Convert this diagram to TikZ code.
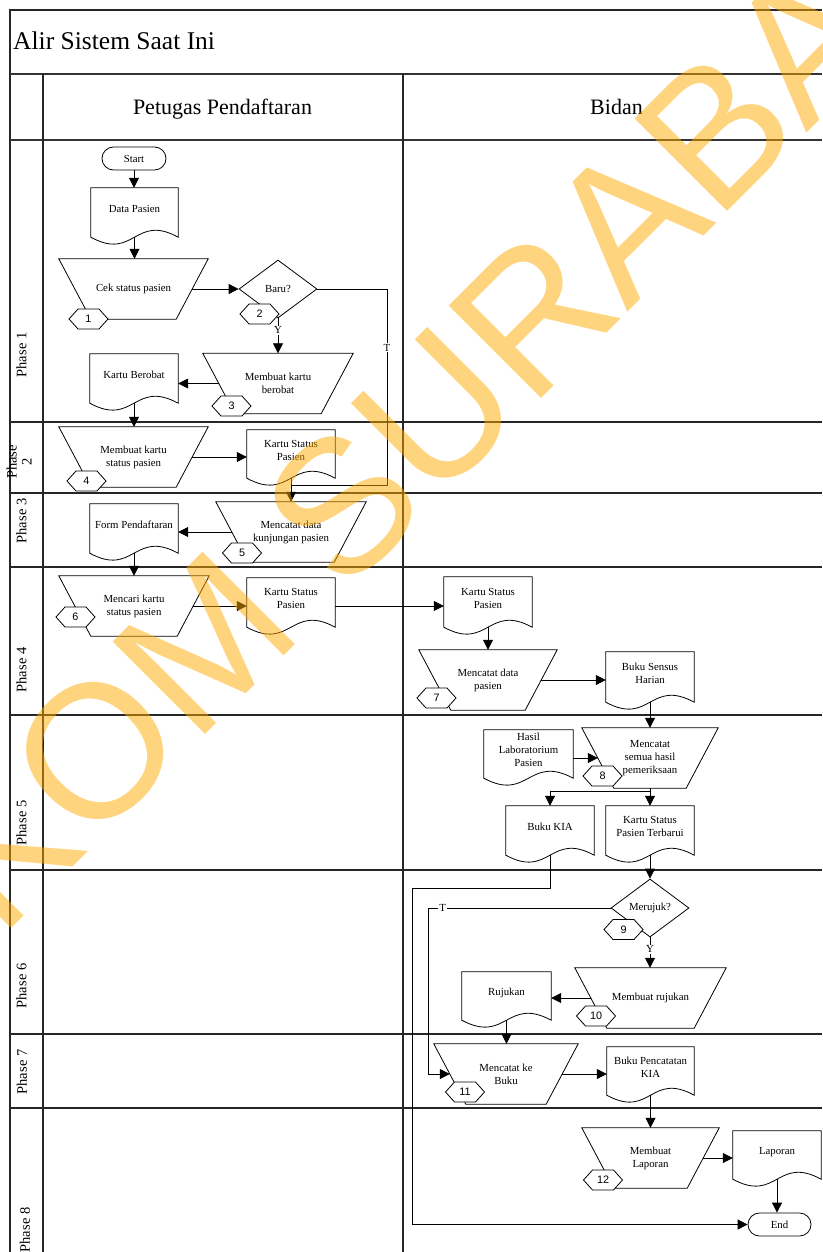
\documentclass[tikz,border=0pt]{standalone}
\usepackage{fontspec}
\setmainfont{Liberation Serif}
\newfontfamily\tagfont{Liberation Sans}
\usetikzlibrary{shapes.geometric,shapes.misc,arrows.meta,calc}

\definecolor{stampcol}{RGB}{255,170,0}

\tikzset{
  txt/.style={font=\fontsize{10.8}{13}\selectfont},
  gridline/.style={line width=1.1pt, black!85},
  headline/.style={line width=1.6pt, black!80},
  shapeline/.style={line width=0.8pt},
  flow/.style={line width=0.8pt},
  arr/.style={flow, -{Triangle[length=10pt,width=10pt]}},
  docnode/.style={rectangle, txt, align=center, inner sep=0pt, text depth=8pt,
    minimum width=88pt, minimum height=49pt},
  procnode/.style={rectangle, txt, align=center, inner sep=0pt, minimum height=60pt},
  decnode/.style={diamond, draw, shapeline, txt, inner sep=0pt,
    minimum width=78pt, minimum height=58pt},
  termnode/.style={rounded rectangle, draw, shapeline, txt, inner sep=0pt,
    minimum width=64pt, minimum height=23pt},
  numtext/.style={font=\tagfont\fontsize{10.8}{12}\selectfont, inner sep=0pt},
  hexline/.style={shapeline, fill=white},
  yesno/.style={txt, fill=white, inner sep=1pt},
  phaselbl/.style={rotate=90, font=\fontsize{14.5}{15}\selectfont, align=center, inner sep=0pt},
  lanehead/.style={font=\fontsize{22}{26}\selectfont, inner sep=0pt},
  stamp/.style={rotate=45, text=stampcol, text opacity=0.5, inner sep=0pt,
    font=\tagfont\fontsize{190}{190}\selectfont},
}

% document symbol: straight top and sides, wavy bottom
\newcommand\docframe[1]{%
  \draw[shapeline] (#1.south west)
    .. controls ($(#1.south)+(0,24)$) and ($(#1.south)+(0,-24)$) .. (#1.south east)
    -- (#1.north east) -- (#1.north west) -- cycle;}
% manual operation: trapezium narrowing downwards, with side mid-points
\newcommand\procframe[1]{%
  \draw[shapeline] (#1.north west) -- (#1.north east)
    -- ($(#1.south east)+(-32,0)$) -- ($(#1.south west)+(32,0)$) -- cycle;
  \coordinate (#1-l) at ($(#1.west)+(16,0)$);
  \coordinate (#1-r) at ($(#1.east)+(-16,0)$);}
% numbered hexagon tag: name, centre, number
\newcommand\numtag[3]{%
  \filldraw[hexline] ($(#2)+(-19.5,0)$) -- ++(9,-10) -- ++(21,0) -- ++(9,10)
    -- ++(-9,10) -- ++(-21,0) -- cycle;
  \node[numtext] (#1) at (#2) {#3};}

\begin{document}
\begin{tikzpicture}[x=1pt,y=-1pt]
\useasboundingbox (0,0) rectangle (822,1252);
\fill[white] (0,0) rectangle (822,1252);

% pool frame, lanes and phases
\draw[gridline] (10,1252) -- (10,10) -- (822,10);
\draw[headline] (10,74) -- (822,74);
\draw[headline] (10,140) -- (822,140);
\draw[gridline] (43,74) -- (43,1252);
\draw[gridline] (403,74) -- (403,1252);
\foreach \y in {422,493,567,715,870,1034,1108}
  \draw[gridline] (10,\y) -- (822,\y);

\node[anchor=base west, inner sep=0pt, font=\fontsize{25.5}{30}\selectfont] (title) at (13,50) {Alir Sistem Saat Ini};
\node[lanehead, anchor=base] (lane1) at (222.5,115) {Petugas Pendaftaran};
\node[lanehead, anchor=base] (lane2) at (616.5,115) {Bidan};

\node[phaselbl] (ph1) at (21.5,355) {Phase 1};
\node[phaselbl] (ph2) at (19,462) {Phase\\2};
\node[phaselbl] (ph3) at (21.5,521) {Phase 3};
\node[phaselbl] (ph4) at (21.5,670) {Phase 4};
\node[phaselbl] (ph5) at (21.5,823) {Phase 5};
\node[phaselbl] (ph6) at (21.5,986) {Phase 6};
\node[phaselbl] (ph7) at (22,1072) {Phase 7};
\node[phaselbl] (ph8) at (25,1230) {Phase 8};

% flow symbols
\node[termnode] (start) at (134,158.5) {Start};
\node[docnode, minimum width=87pt] (d1) at (134.5,212.5) {Data Pasien};
\node[procnode, minimum width=149pt] (p1) at (133.5,289) {Cek status pasien};
\node[decnode] (baru) at (278,289) {Baru?};
\node[procnode, minimum width=150pt] (p3) at (278,383.5) {Membuat kartu\\berobat};
\node[docnode] (d2) at (134,378.5) {Kartu Berobat};
\node[procnode, minimum width=149pt] (p4) at (133.5,457) {Membuat kartu\\status pasien};
\node[docnode, minimum height=48pt] (d3) at (291,454) {Kartu Status\\Pasien};
\node[procnode, minimum width=150pt] (p5) at (291,532) {Mencatat data\\kunjungan pasien};
\node[docnode] (d4) at (134,528.5) {Form Pendaftaran};
\node[procnode, minimum width=150pt] (p6) at (134,606) {Mencari kartu\\status pasien};
\node[docnode] (d5) at (291,602.5) {Kartu Status\\Pasien};
\node[docnode, minimum height=50pt] (d6) at (488,602) {Kartu Status\\Pasien};
\node[procnode, minimum width=138pt] (p7) at (488,680) {Mencatat data\\pasien};
\node[docnode, minimum height=50pt] (d7) at (650,677) {Buku Sensus\\Harian};
\node[procnode, minimum width=136pt] (p8) at (650,758) {Mencatat\\semua hasil\\pemeriksaan};
\node[docnode, minimum width=89pt, minimum height=48pt] (d8) at (528.5,754) {Hasil\\Laboratorium\\Pasien};
\node[docnode] (d9) at (550,830.5) {Buku KIA};
\node[docnode] (d10) at (650,830.5) {Kartu Status\\Pasien Terbarui};
\node[decnode] (rujuk) at (650,908) {Merujuk?};
\node[procnode, minimum width=151pt] (p10) at (650.5,998) {Membuat rujukan};
\node[docnode, minimum width=89pt, minimum height=48pt] (d11) at (506.5,996) {Rujukan};
\node[procnode, minimum width=144pt] (p11) at (506,1074) {Mencatat ke\\Buku};
\node[docnode, minimum width=87pt, minimum height=48pt] (d12) at (650.5,1071) {Buku Pencatatan\\KIA};
\node[procnode, minimum width=137pt] (p12) at (650.5,1158) {Membuat\\Laporan};
\node[docnode, minimum height=48pt] (d13) at (777,1155) {Laporan};
\node[termnode, minimum width=63pt] (end) at (779.5,1224.5) {End};

\foreach \d in {d1,d2,d3,d4,d5,d6,d7,d8,d9,d10,d11,d12,d13} {\docframe{\d}}
\foreach \p in {p1,p3,p4,p5,p6,p7,p8,p10,p11,p12} {\procframe{\p}}

% step numbers
\numtag{n1}{88.5,319}{1}
\numtag{n2}{259.5,314}{2}
\numtag{n3}{231.5,406}{3}
\numtag{n4}{86.5,481}{4}
\numtag{n5}{242,553}{5}
\numtag{n6}{75.5,617}{6}
\numtag{n7}{436.5,698}{7}
\numtag{n8}{602.5,776}{8}
\numtag{n9}{623.5,929.5}{9}
\numtag{n10}{596,1016}{10}
\numtag{n11}{465,1092}{11}
\numtag{n12}{603,1180}{12}

% connectors
\coordinate (tbend) at (387,485);
\coordinate (tleft) at (428,1074);
\coordinate (kturn) at (412,888);

\draw[arr] (start.south) -- (start.south |- d1.north);
\draw[arr] (d1.south) -- (d1.south |- p1.north);
\draw[arr] (p1-r) -- (baru.west);
\draw[arr] (baru.south) -- node[yesno, pos=0.34] {Y} (p3.north);
\draw[arr] (p3-l) -- (p3-l -| d2.east);
\draw[arr] (d2.south) -- (d2.south |- p4.north);
\draw[arr] (p4-r) -- (p4-r -| d3.west);
\draw[flow] (baru.east) -| node[yesno, pos=0.65] {T} (tbend) -- (tbend -| d3.south);
\draw[arr] (d3.south) -- (d3.south |- p5.north);
\draw[arr] (p5-l) -- (p5-l -| d4.east);
\draw[arr] (d4.south) -- (d4.south |- p6.north);
\draw[arr] (p6-r) -- (p6-r -| d5.west);
\draw[arr] (d5.east |- p6-r) -- (d6.west |- p6-r);
\draw[arr] (d6.south) -- (d6.south |- p7.north);
\draw[arr] (p7-r) -- (p7-r -| d7.west);
\draw[arr] (d7.south) -- (d7.south |- p8.north);
\draw[arr] (d8.east |- p8-l) -- (p8-l);
\draw[arr] (p8.south) -- (p8.south |- d10.north);
\draw[arr] (p8.south) -- ++(0,3) -| (d9.north);
\draw[arr] (d10.south) -- (d10.south |- rujuk.north);
\draw[arr] (rujuk.south) -- node[yesno, pos=0.39] {Y} (rujuk.south |- p10.north);
\draw[arr] (rujuk.west) -| node[yesno, pos=0.46] {T} (tleft) -- (p11-l);
\draw[arr] (p10-l) -- (p10-l -| d11.east);
\draw[arr] (d11.south) -- (d11.south |- p11.north);
\draw[arr] (p11-r) -- (p11-r -| d12.west);
\draw[arr] (d12.south) -- (d12.south |- p12.north);
\draw[arr] (p12-r) -- (p12-r -| d13.west);
\draw[arr] (d13.south) -- (d13.south |- end.north);
\draw[arr] (d9.south) |- (kturn) |- (end.west);

% watermark
\node[stamp] (wm) at (377,470) {STIKOM SURABAYA};
\end{tikzpicture}
\end{document}
